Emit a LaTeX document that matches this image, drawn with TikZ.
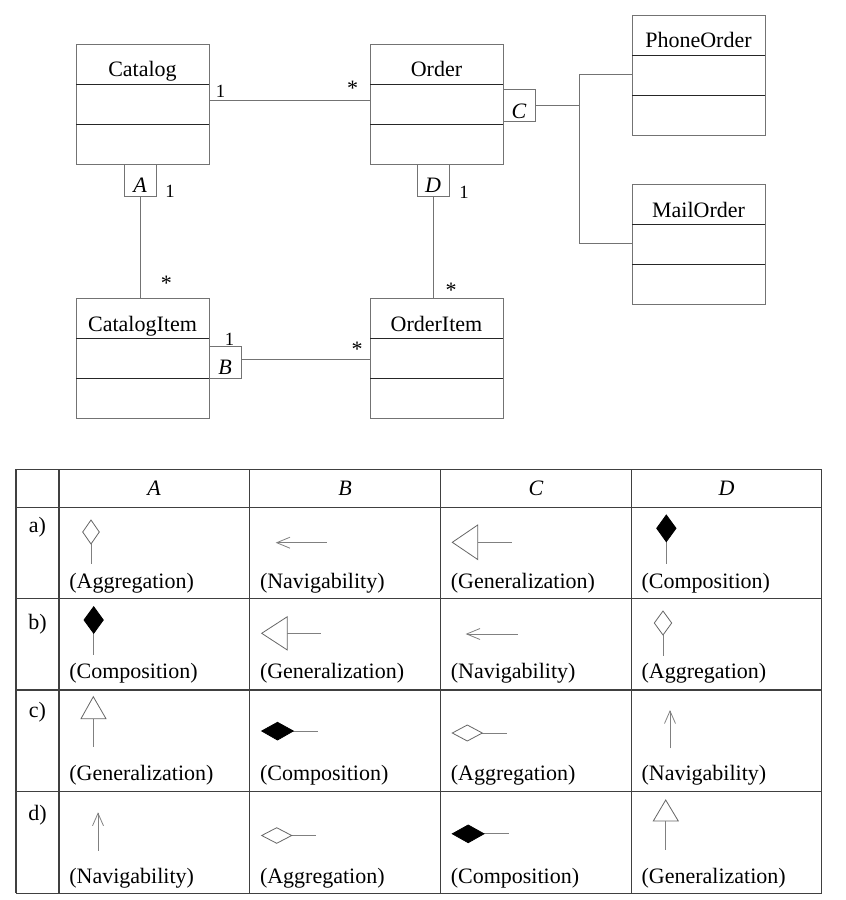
\documentclass[tikz,border=0pt]{standalone}
\usepackage{fontspec}
\setmainfont{Liberation Serif}
\usetikzlibrary{calc}
\begin{document}
\begin{tikzpicture}[x=0.75pt,y=-0.75pt,
  every node/.style={font=\fontsize{16.5}{19}\selectfont, inner sep=0pt, outer sep=0pt},
  classbox/.style={draw=black!55, line width=0.7pt, minimum width=99.75pt, minimum height=90pt},
  classname/.style={anchor=base},
  divider/.style={draw=black!85, line width=0.7pt},
  marker/.style={draw=black!55, line width=0.7pt, minimum width=24pt, minimum height=24pt},
  markletter/.style={anchor=base, font=\fontsize{16.5}{19}\selectfont\itshape},
  conn/.style={draw=black!55, line width=0.7pt},
  mult/.style={font=\fontsize{14}{16}\selectfont},
  star/.style={font=\fontsize{16.5}{19}\selectfont},
  grid/.style={draw=black!75, line width=0.8pt},
  sym/.style={draw=black!50, line width=0.6pt},
  opensym/.style={draw=black!60, line width=0.6pt, fill=white},
  fillsym/.style={draw=black, line width=0.6pt, fill=black},
  celltext/.style={anchor=base west},
  headtext/.style={anchor=base, font=\fontsize{16.5}{19}\selectfont\itshape},
  rowtext/.style={anchor=base}
]
\useasboundingbox (0,0) rectangle (846,900);

% ---------- class boxes ----------
\node[classbox] (catalog) at (142.5,104) {};
\node[classbox] (order) at (436.5,104) {};
\node[classbox] (phone) at (698.5,75.3) {};
\node[classbox] (mail) at (698.5,244.5) {};
\node[classbox] (catitem) at (142.5,358.7) {};
\node[classbox] (orderitem) at (436.5,358.7) {};

\foreach \c in {catalog,order,phone,mail,catitem,orderitem}{
  \draw[divider] ([yshift=-30pt]\c.north west) -- ([yshift=-30pt]\c.north east);
  \draw[divider] ([yshift=-60pt]\c.north west) -- ([yshift=-60pt]\c.north east);
}

\node[classname] (catalogname) at (142.5,76) {Catalog};
\node[classname] (ordername) at (436.5,76) {Order};
\node[classname] (phonename) at (698.5,47.8) {PhoneOrder};
\node[classname] (mailname) at (698.5,217) {MailOrder};
\node[classname] (catitemname) at (142.5,331.5) {CatalogItem};
\node[classname] (orderitemname) at (436.5,331.5) {OrderItem};

% ---------- markers ----------
\node[marker] (mA) at (140,180) {};
\node[marker] (mB) at (225,362) {};
\node[marker] (mC) at (519,105.5) {};
\node[marker] (mD) at (433,180) {};
\node[markletter] (lA) at ([yshift=2.6pt]mA.south) {A};
\node[markletter] (lB) at ([yshift=2.6pt]mB.south) {B};
\node[markletter] (lC) at ([yshift=2.6pt]mC.south) {C};
\node[markletter] (lD) at ([yshift=2.6pt]mD.south) {D};

% ---------- connectors ----------
\draw[conn] ([yshift=3pt]catalog.east) -- ([yshift=3pt]order.west);
\draw[conn] (mA.south) -- (mA.south |- catitem.north);
\draw[conn] (mD.south) -- (mD.south |- orderitem.north);
\coordinate (bstart) at ([yshift=2.25pt]mB.east);
\draw[conn] (bstart) -- (bstart -| orderitem.west);
\coordinate (junc) at (579,105.5);
\draw[conn] (mC.east) -- (junc);
\draw[conn] ([yshift=0.9pt]phone.west) -| ([yshift=0.9pt]junc |- mail.west) -- ([yshift=0.9pt]mail.west);

% ---------- multiplicities ----------
\node[mult] (m1) at (220.5,91) {1};
\node[star] (s1) at (352.7,88) {*};
\node[mult] (m2) at (170,191.7) {1};
\node[star] (s2) at (166.3,283.3) {*};
\node[mult] (m3) at (229.5,339.5) {1};
\node[star] (s3) at (357,349) {*};
\node[mult] (m4) at (464,192.3) {1};
\node[star] (s4) at (451,290) {*};

% ---------- table grid ----------
\foreach \yy in {469.3,507.3,598.3,690,791.7,893.3}
  \draw[grid] (16,\yy) -- (821.7,\yy);
\foreach \xx in {16,59,249.3,440.7,631.3,821.7}
  \draw[grid] (\xx,469.3) -- (\xx,893.3);

% headers
\node[headtext] (hA) at (154.2,495.5) {A};
\node[headtext] (hB) at (345,495.5) {B};
\node[headtext] (hC) at (536,495.5) {C};
\node[headtext] (hD) at (726.5,495.5) {D};

% row labels
\node[rowtext] (ra) at (37.5,532.5) {a)};
\node[rowtext] (rb) at (37.5,629.5) {b)};
\node[rowtext] (rc) at (37.5,717.5) {c)};
\node[rowtext] (rd) at (37.5,820) {d)};

% cell texts
\node[celltext] (ta1) at (69.3,588) {(Aggregation)};
\node[celltext] (ta2) at (260,588) {(Navigability)};
\node[celltext] (ta3) at (450.8,588) {(Generalization)};
\node[celltext] (ta4) at (641.6,588) {(Composition)};
\node[celltext] (tb1) at (69.3,678.3) {(Composition)};
\node[celltext] (tb2) at (260,678.3) {(Generalization)};
\node[celltext] (tb3) at (450.8,678.3) {(Navigability)};
\node[celltext] (tb4) at (641.6,678.3) {(Aggregation)};
\node[celltext] (tc1) at (69.3,780.6) {(Generalization)};
\node[celltext] (tc2) at (260,780.6) {(Composition)};
\node[celltext] (tc3) at (450.8,780.6) {(Aggregation)};
\node[celltext] (tc4) at (641.6,780.6) {(Navigability)};
\node[celltext] (td1) at (69.3,883.2) {(Navigability)};
\node[celltext] (td2) at (260,883.2) {(Aggregation)};
\node[celltext] (td3) at (450.8,883.2) {(Composition)};
\node[celltext] (td4) at (641.6,883.2) {(Generalization)};

% ---------- symbols ----------
% row a
\draw[sym] (91,544) -- (91,564.3);
\draw[opensym] (91,520) -- (99.3,532) -- (91,544) -- (82.7,532) -- cycle;
\draw[sym] (326.7,542.7) -- (276.7,542.7);
\draw[sym] (290,537.2) -- (276.7,542.7) -- (290,548.2);
\draw[sym] (477.7,542.3) -- (511.7,542.3);
\draw[opensym] (452.3,542.3) -- (477.7,525) -- (477.7,559.5) -- cycle;
\draw[sym] (666.3,541.7) -- (666.3,564.3);
\draw[fillsym] (666.3,515) -- (676,528.3) -- (666.3,541.7) -- (656.7,528.3) -- cycle;
% row b
\draw[sym] (93.7,633.3) -- (93.7,655);
\draw[fillsym] (93.7,606.7) -- (103.3,620) -- (93.7,633.3) -- (84,620) -- cycle;
\draw[sym] (287.3,633.3) -- (320.7,633.3);
\draw[opensym] (261.7,633.3) -- (287.3,616.7) -- (287.3,650) -- cycle;
\draw[sym] (517.7,634) -- (466.7,634);
\draw[sym] (480,628.5) -- (466.7,634) -- (480,639.5);
\draw[sym] (663,635) -- (663,655.7);
\draw[opensym] (663,611) -- (671.7,623) -- (663,635) -- (654.3,623) -- cycle;
% row c
\draw[sym] (93.3,718.7) -- (93.3,747.3);
\draw[opensym] (93.3,696.7) -- (106,718.7) -- (81,718.7) -- cycle;
\draw[sym] (293.3,731) -- (318.3,731);
\draw[fillsym] (261.7,731) -- (277.5,722.3) -- (293.3,731) -- (277.5,740) -- cycle;
\draw[sym] (482.3,733) -- (506.7,733);
\draw[opensym] (452.3,733) -- (467.3,725) -- (482.3,733) -- (467.3,741) -- cycle;
\draw[sym] (670,748.3) -- (670,711);
\draw[sym] (664.5,723.5) -- (670,711) -- (675.5,723.5);
% row d
\draw[sym] (98,850.7) -- (98,813.3);
\draw[sym] (92.5,825.8) -- (98,813.3) -- (103.5,825.8);
\draw[sym] (291.7,835.5) -- (315.7,835.5);
\draw[opensym] (261.7,835.5) -- (276.7,827.7) -- (291.7,835.5) -- (276.7,843.3) -- cycle;
\draw[sym] (484,833.8) -- (509.3,833.8);
\draw[fillsym] (452.3,833.8) -- (468.2,825) -- (484,833.8) -- (468.2,842.7) -- cycle;
\draw[sym] (665.7,821) -- (665.7,850);
\draw[opensym] (665.7,800) -- (678.3,821) -- (653.3,821) -- cycle;
\end{tikzpicture}
\end{document}
